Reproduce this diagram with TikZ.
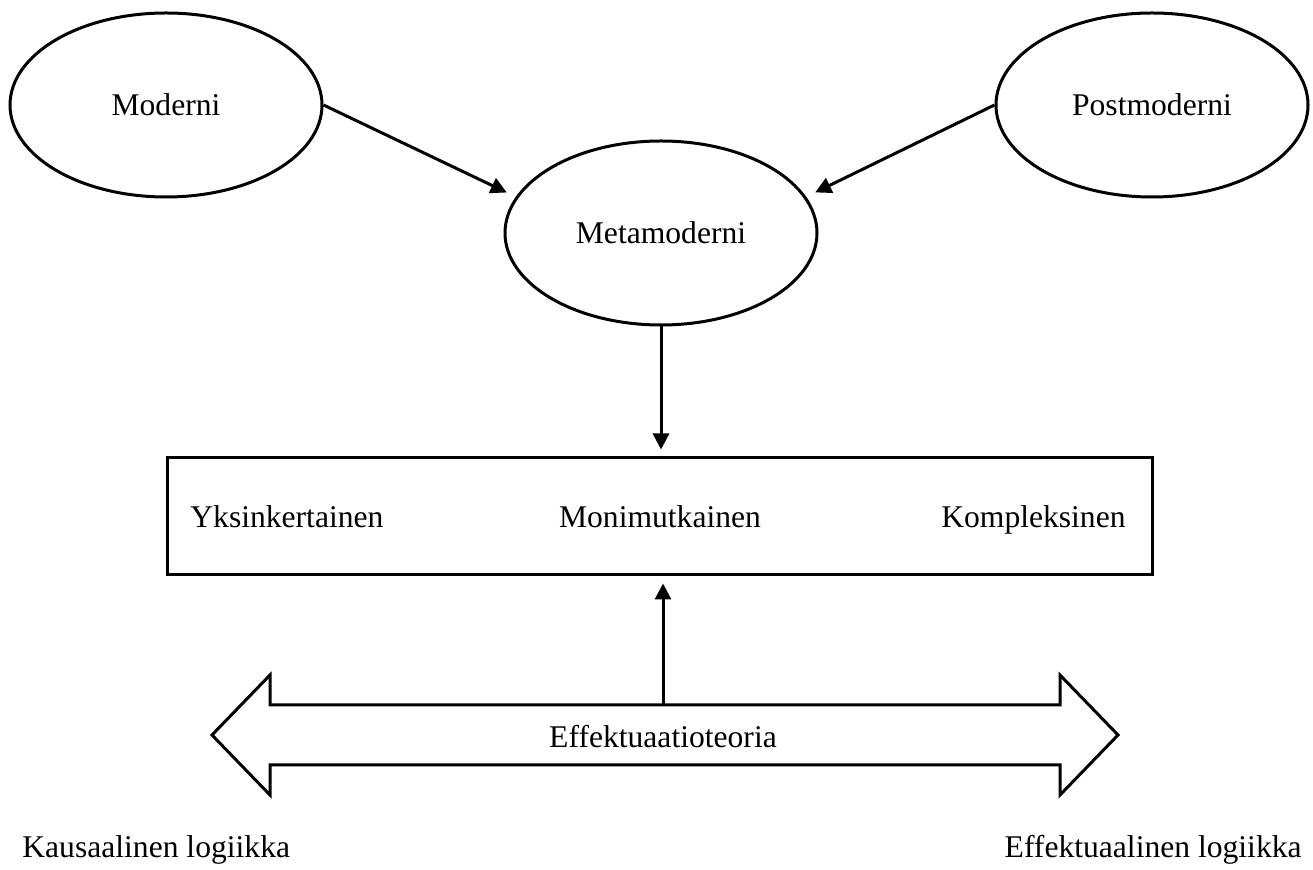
\documentclass[tikz,border=0pt]{standalone}
\usepackage{fontspec}
\setmainfont{Liberation Serif}
\usetikzlibrary{shapes.geometric,arrows.meta}
\begin{document}
\begin{tikzpicture}[x=0.5pt,y=-0.5pt,
  every node/.style={font=\fontsize{15.8}{19}\selectfont, inner sep=0pt},
  oval/.style={ellipse, draw, line width=1.5pt, minimum width=156pt, minimum height=92pt},
  frame/.style={rectangle, draw, line width=1.5pt, minimum width=492.5pt, minimum height=58.5pt},
  conn/.style={line width=1.5pt, -{Triangle[length=8pt,width=8pt]}},
  band/.style={line width=1.5pt, line join=miter}]
\useasboundingbox (0,0) rectangle (1313,870);

% top row of periods
\node[oval] (mod) at (166,105) {Moderni};
\node[oval] (post) at (1152,105) {Postmoderni};
\node[oval] (meta) at (661,233) {Metamoderni};

% box with three levels
\node[frame] (box) at (659.5,516.5) {};
\node[anchor=base west] (yks) at (190,528) {Yksinkertainen};
\node[anchor=base] (moni) at (660,528) {Monimutkainen};
\node[anchor=base east] (komp) at (1126,528) {Kompleksinen};

% double-headed block arrow
\draw[band] (212,735) -- (270,675) -- (270,705) -- (1060,705) -- (1060,675)
  -- (1118,735) -- (1060,795) -- (1060,765) -- (270,765) -- (270,795) -- cycle;
\node (eff) at (663,737) {Effektuaatioteoria};
\coordinate (bandtop) at (663,705);

% end labels
\node[anchor=base west] (kaus) at (22,858) {Kausaalinen logiikka};
\node[anchor=base east] (effl) at (1302,858) {Effektuaalinen logiikka};

% connectors
\draw[conn, shorten >=5pt] (mod.east) -- (meta.166);
\draw[conn, shorten >=5pt] (post.west) -- (meta.14);
\draw[conn, shorten >=3.5pt] (meta.south) -- (meta.south |- box.north);
\draw[conn, shorten >=3.5pt] (bandtop) -- (bandtop |- box.south);
\end{tikzpicture}
\end{document}
